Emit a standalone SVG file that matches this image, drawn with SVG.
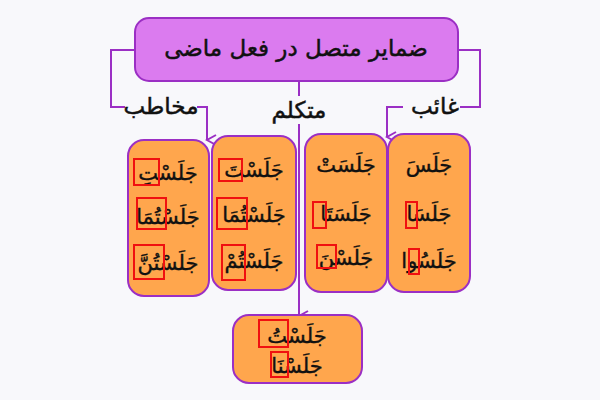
<svg xmlns="http://www.w3.org/2000/svg" width="600" height="400" viewBox="0 0 600 400">
<defs>
<marker id="arr" markerWidth="12" markerHeight="12" refX="6" refY="10" orient="auto" markerUnits="userSpaceOnUse" viewBox="0 0 12 12">
<path d="M1,1 L6,10 L11,1" fill="none" stroke="#9B2FC4" stroke-width="2"/>
</marker>
<style>
.bg{fill:#f8f8fb}
.box{fill:#FFA64D;stroke:#9B2FC4;stroke-width:2}
.title{fill:#DB7BEF;stroke:#9B2FC4;stroke-width:2}
.t{font-family:"DejaVu Sans",sans-serif;font-size:23px;fill:#111;stroke:#111;stroke-width:0.5;text-anchor:middle}
.w{font-family:"DejaVu Sans",sans-serif;font-size:21px;fill:#111;stroke:#111;stroke-width:0.4;text-anchor:middle}
.hl{fill:none;stroke:#F01010;stroke-width:2}
.ln{fill:none;stroke:#9B2FC4;stroke-width:2}
</style>
</defs>
<rect class="bg" x="0" y="0" width="600" height="400"/>
<g id="connectors">
<path class="ln" d="M135,50 H111 V107 H125"/>
<path class="ln" d="M197,107 H207 V140" marker-end="url(#arr)"/>
<path class="ln" d="M458,50 H480 V107 H460"/>
<path class="ln" d="M403,107 H387 V137" marker-end="url(#arr)"/>
<path class="ln" d="M299,81 V96"/>
<path class="ln" d="M299,124 V316" marker-end="url(#arr)"/>
<text class="t" x="161" y="114">مخاطب</text>
<text class="t" x="299" y="118">متكلم</text>
<text class="t" x="435" y="114">غائب</text>
</g>
<g id="title">
<rect class="title" x="135" y="18" width="323" height="63" rx="14"/>
<text class="t" x="296" y="56">ضمایر متصل در فعل ماضی</text>
</g>
<g id="mukhatab2">
<rect class="box" x="128" y="140" width="81" height="156" rx="16"/>
<text class="w" x="168" y="180">جَلَسْتِ</text>
<text class="w" x="168" y="224">جَلَسْتُمَا</text>
<text class="w" x="168" y="270">جَلَسْتُنَّ</text>
<rect class="hl" x="134" y="159" width="25" height="26"/>
<rect class="hl" x="137" y="198" width="29" height="31"/>
<rect class="hl" x="134" y="245" width="30" height="34"/>
</g>
<g id="mukhatab1">
<rect class="box" x="212" y="136" width="84" height="154" rx="16"/>
<text class="w" x="254" y="177">جَلَسْتَ</text>
<text class="w" x="254" y="222">جَلَسْتُمَا</text>
<text class="w" x="254" y="268">جَلَسْتُمْ</text>
<rect class="hl" x="219" y="159" width="23" height="22"/>
<rect class="hl" x="217" y="198" width="30" height="31"/>
<rect class="hl" x="222" y="245" width="23" height="35"/>
</g>
<g id="ghaeb2">
<rect class="box" x="305" y="134" width="82" height="158" rx="16"/>
<text class="w" x="346" y="172">جَلَسَتْ</text>
<text class="w" x="346" y="221">جَلَسَتَا</text>
<text class="w" x="346" y="265">جَلَسْنَ</text>
<rect class="hl" x="313" y="202" width="13" height="26"/>
<rect class="hl" x="317" y="245" width="19" height="23"/>
</g>
<g id="ghaeb1">
<rect class="box" x="388" y="134" width="82" height="158" rx="16"/>
<text class="w" x="429" y="172">جَلَسَ</text>
<text class="w" x="429" y="221">جَلَسَا</text>
<text class="w" x="429" y="268">جَلَسُوا</text>
<rect class="hl" x="406" y="202" width="11" height="26"/>
<rect class="hl" x="409" y="249" width="10" height="25"/>
</g>
<g id="motakallem">
<rect class="box" x="233" y="315" width="129" height="68" rx="16"/>
<text class="w" x="297" y="343">جَلَسْتُ</text>
<text class="w" x="297" y="373">جَلَسْنَا</text>
<rect class="hl" x="259" y="320" width="29" height="27"/>
<rect class="hl" x="271" y="352" width="17" height="25"/>
</g>
</svg>
